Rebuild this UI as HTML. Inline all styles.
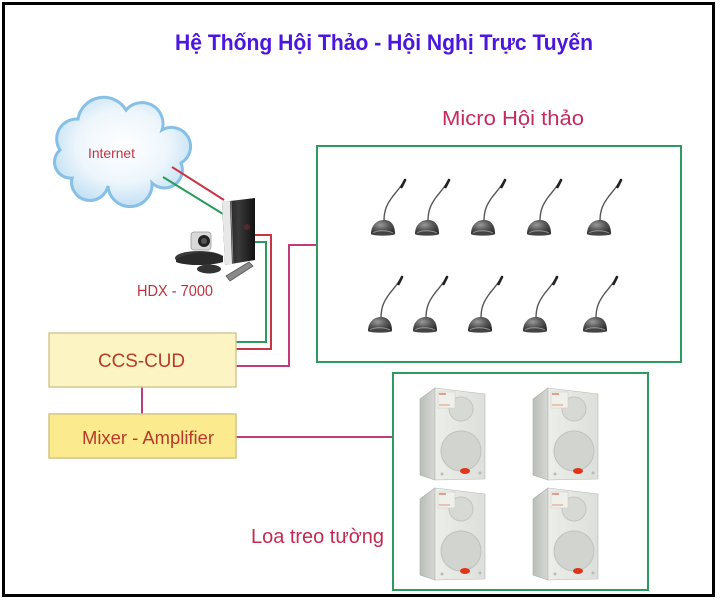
<!DOCTYPE html>
<html><head><meta charset="utf-8"><style>
html,body{margin:0;padding:0;background:#fff;}
svg{display:block;}
</style></head><body>
<svg width="720" height="600" viewBox="0 0 720 600" xmlns="http://www.w3.org/2000/svg">
<defs>
<radialGradient id="cloudG" cx="50%" cy="45%" r="60%">
<stop offset="0" stop-color="#ffffff"/><stop offset="0.55" stop-color="#eef6fc"/><stop offset="1" stop-color="#b9dcf3"/>
</radialGradient>
<radialGradient id="micG" cx="40%" cy="35%" r="70%">
<stop offset="0" stop-color="#9a9a9a"/><stop offset="0.5" stop-color="#5a5a5a"/><stop offset="1" stop-color="#2e2e2e"/>
</radialGradient>
<linearGradient id="sideG" x1="0" x2="1"><stop offset="0" stop-color="#b9bdb8"/><stop offset="1" stop-color="#d6d9d4"/></linearGradient>
<linearGradient id="frontG" x1="0" x2="1"><stop offset="0" stop-color="#eceeea"/><stop offset="1" stop-color="#dcdfda"/></linearGradient>
<linearGradient id="towerG" x1="0" x2="1"><stop offset="0" stop-color="#1a1a1a"/><stop offset="0.5" stop-color="#3a3a3a"/><stop offset="1" stop-color="#111"/></linearGradient>
<g id="mic">
<path d="M1,-7 C1,-18 4,-24 10,-32 C15,-38 18,-42 20,-45" fill="none" stroke="#555" stroke-width="1.4"/>
<line x1="18.5" y1="-41" x2="22" y2="-48" stroke="#222" stroke-width="2.6" stroke-linecap="round"/>
<path d="M-12,6 C-12,-3 -6,-8 1,-8 C8,-8 12,-3 12,6 Z" fill="url(#micG)"/>
<path d="M-10,5 C-6,2 4,2 10,5" fill="none" stroke="#bbb" stroke-width="1" opacity="0.7"/>
<ellipse cx="0" cy="6" rx="12" ry="1.6" fill="#444"/>
</g>
<g id="spk">
<polygon points="0,11 15,0 15,92 0,87" fill="url(#sideG)" stroke="#a9ada8" stroke-width="0.6"/>
<polygon points="15,0 65,6 65,91 15,92" fill="url(#frontG)" stroke="#b5b8b3" stroke-width="0.6"/>
<circle cx="41" cy="21" r="12" fill="#d7d9d5" stroke="#c2c5c0" stroke-width="1"/>
<circle cx="41" cy="63" r="20" fill="#d2d4d0" stroke="#bfc2bd" stroke-width="1"/>
<rect x="18" y="4" width="17" height="16" fill="#eef0ec" stroke="#d9c8c0" stroke-width="0.5"/>
<line x1="19" y1="6" x2="26" y2="6" stroke="#d05030" stroke-width="1"/>
<line x1="19" y1="17" x2="30" y2="17" stroke="#e08050" stroke-width="0.8"/>
<ellipse cx="45" cy="83" rx="5" ry="3" fill="#e0341a"/>
<circle cx="22" cy="86" r="1.5" fill="#bbb"/>
<circle cx="60" cy="85" r="1.5" fill="#bbb"/>
</g>
</defs>

<rect x="3.5" y="3.5" width="710" height="592" fill="#fff" stroke="#000" stroke-width="3"/>

<text x="175" y="50" font-family="'Liberation Sans', sans-serif" font-weight="bold" font-size="22" fill="#4b16e0" textLength="418" lengthAdjust="spacingAndGlyphs">Hệ Thống Hội Thảo - Hội Nghị Trực Tuyến</text>

<!-- cloud -->
<path d="M72,178 A16,16 0 0 1 60,150 A20,20 0 0 1 78,119 A26,26 0 0 1 126,110 A21,21 0 0 1 162,130 A17,17 0 0 1 181,163 A18,18 0 0 1 152,183 A22,22 0 0 1 108,186 A18,18 0 0 1 72,178 Z" fill="url(#cloudG)" stroke="#86c0e6" stroke-width="3"/>
<text x="88" y="158" font-family="'Liberation Sans', sans-serif" font-size="14" fill="#c03545" textLength="47" lengthAdjust="spacingAndGlyphs">Internet</text>

<!-- connectors -->
<g fill="none" stroke-width="2">
<line x1="172" y1="167" x2="224" y2="200" stroke="#c83545"/>
<line x1="163" y1="177" x2="223" y2="214" stroke="#2c9a5c"/>
<polyline points="255,235 271,235 271,349 236,349" stroke="#c83545"/>
<polyline points="255,242 266,242 266,342 236,342" stroke="#2c9a5c"/>
<polyline points="236,366 289,366 289,245 317,245" stroke="#c23a78"/>
<line x1="142" y1="387" x2="142" y2="414" stroke="#b8407a"/>
<line x1="236" y1="437" x2="393" y2="437" stroke="#c23a78"/>
</g>

<!-- HDX device -->
<ellipse cx="199" cy="258" rx="24" ry="7" fill="#3a3a3a"/>
<path d="M176,260 C185,252 212,250 223,256 L223,262 C210,266 186,266 176,262 Z" fill="#2a2a2a"/>
<rect x="191" y="232" width="20" height="18" rx="3" fill="#d8d8d8" stroke="#999" stroke-width="0.8"/>
<circle cx="204" cy="241" r="6" fill="#222"/>
<circle cx="204" cy="241" r="3" fill="#555"/>
<polygon points="222,202 255,198 255,260 225,265" fill="url(#towerG)"/>
<polygon points="222,202 230,201 232,264 225,265" fill="#e8e8e8"/>
<line x1="231" y1="201" x2="233" y2="264" stroke="#999" stroke-width="0.8"/>
<circle cx="247" cy="227" r="3" fill="#6a2a30" opacity="0.7"/>
<ellipse cx="209" cy="269" rx="12" ry="4.5" fill="#333"/>
<polygon points="226,276 249,262 253,266 230,281" fill="#8a8a8a" stroke="#555" stroke-width="0.8"/>
<text x="137" y="296" font-family="'Liberation Sans', sans-serif" font-size="16" fill="#c0303f" textLength="76" lengthAdjust="spacingAndGlyphs">HDX - 7000</text>

<!-- micro box -->
<text x="442" y="125" font-family="'Liberation Sans', sans-serif" font-size="20" fill="#c42a5e" textLength="142" lengthAdjust="spacingAndGlyphs">Micro Hội thảo</text>
<rect x="317" y="146" width="364" height="216" fill="none" stroke="#2e9a60" stroke-width="2"/>
<use href="#mic" x="383" y="228"/>
<use href="#mic" x="427" y="228"/>
<use href="#mic" x="483" y="228"/>
<use href="#mic" x="539" y="228"/>
<use href="#mic" x="599" y="228"/>
<use href="#mic" x="380" y="325"/>
<use href="#mic" x="425" y="325"/>
<use href="#mic" x="480" y="325"/>
<use href="#mic" x="535" y="325"/>
<use href="#mic" x="595" y="325"/>

<!-- CCS & Mixer -->
<rect x="49" y="333" width="187" height="54" fill="#fcf4c2" stroke="#d4c894" stroke-width="1.5"/>
<text x="98" y="367" font-family="'Liberation Sans', sans-serif" font-size="19" fill="#b83a2a" textLength="87" lengthAdjust="spacingAndGlyphs">CCS-CUD</text>
<rect x="49" y="414" width="187" height="44" fill="#fbeb8e" stroke="#d4c484" stroke-width="1.5"/>
<text x="82" y="444" font-family="'Liberation Sans', sans-serif" font-size="18" fill="#b83a2a" textLength="132" lengthAdjust="spacingAndGlyphs">Mixer - Amplifier</text>

<!-- speaker box -->
<rect x="393" y="373" width="255" height="217" fill="none" stroke="#2e9a60" stroke-width="2"/>
<use href="#spk" x="420" y="388"/>
<use href="#spk" x="533" y="388"/>
<use href="#spk" x="420" y="488"/>
<use href="#spk" x="533" y="488"/>
<text x="251" y="543" font-family="'Liberation Sans', sans-serif" font-size="20" fill="#c42a50" textLength="133" lengthAdjust="spacingAndGlyphs">Loa treo tường</text>
</svg>
</body></html>
